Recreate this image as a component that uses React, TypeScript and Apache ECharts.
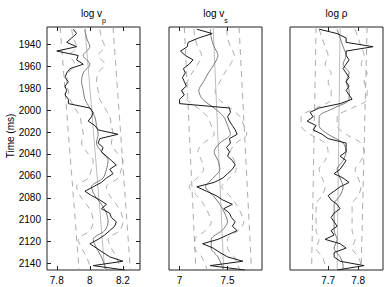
import React, { useEffect, useRef } from "react";
import * as echarts from "echarts";

// Sample times (ms)
const TIME = [
  1926, 1930, 1934, 1938, 1942, 1946, 1950, 1954, 1958, 1962, 1966, 1970, 1974, 1978,
  1982, 1986, 1990, 1994, 1998, 2002, 2006, 2010, 2014, 2018, 2022, 2026, 2030, 2034,
  2038, 2042, 2046, 2050, 2054, 2058, 2062, 2066, 2070, 2074, 2078, 2082, 2086, 2090,
  2094, 2098, 2102, 2106, 2110, 2114, 2118, 2122, 2126, 2130, 2134, 2138, 2142, 2146,
];
const EST_TIME = [
  1926, 1934, 1942, 1950, 1958, 1966, 1974, 1982, 1990, 1998, 2006, 2014, 2022, 2030,
  2038, 2046, 2054, 2062, 2070, 2078, 2086, 2094, 2102, 2110, 2118, 2126, 2134, 2142, 2146,
];
const TREND_TIME = [1924, 2146];

// log vp
const vpTrue = [
  7.90, 7.92, 7.89, 7.86, 7.92, 7.80, 7.93, 7.92, 7.96, 7.88, 7.86, 7.85, 7.87, 7.85,
  7.86, 7.85, 7.87, 7.87, 8.00, 8.02, 8.01, 7.99, 8.03, 8.05, 8.17, 8.06, 8.05, 8.08,
  8.07, 8.10, 8.13, 8.16, 8.12, 8.14, 8.10, 8.07, 8.02, 7.97, 8.01, 8.06, 8.10, 8.07,
  8.12, 8.13, 8.16, 8.15, 8.12, 8.09, 8.05, 8.00, 8.04, 8.08, 8.12, 8.20, 8.02, 8.21,
];
const vpEst = [
  7.97, 7.98, 8.00, 7.96, 8.00, 7.96, 7.95, 7.96, 7.97, 8.00, 8.03, 8.04, 8.05, 8.04,
  8.07, 8.11, 8.10, 8.08, 8.01, 8.03, 8.07, 8.10, 8.11, 8.09, 8.02, 8.04, 8.07, 8.09, 8.10,
];
const vpLo = [
  7.89, 7.90, 7.92, 7.88, 7.91, 7.87, 7.86, 7.87, 7.88, 7.91, 7.94, 7.95, 7.96, 7.95,
  7.98, 8.02, 8.01, 7.99, 7.92, 7.94, 7.98, 8.01, 8.02, 8.00, 7.93, 7.95, 7.98, 8.00, 8.01,
];
const vpHi = [
  8.06, 8.07, 8.09, 8.05, 8.09, 8.05, 8.04, 8.05, 8.06, 8.09, 8.12, 8.13, 8.14, 8.13,
  8.16, 8.20, 8.19, 8.17, 8.10, 8.12, 8.16, 8.19, 8.20, 8.18, 8.11, 8.13, 8.16, 8.18, 8.19,
];
const vpTrend = [7.97, 8.09];
const vpPriorLo = [7.82, 7.935];
const vpPriorHi = [8.14, 8.245];

// log vs
const vsTrue = [
  7.18, 7.34, 7.20, 7.09, 7.08, 7.01, 7.06, 7.14, 7.10, 7.04, 7.06, 7.03, 7.05, 7.07,
  7.02, 7.05, 7.00, 7.00, 7.52, 7.53, 7.50, 7.52, 7.55, 7.58, 7.60, 7.52, 7.53, 7.49,
  7.52, 7.50, 7.55, 7.58, 7.55, 7.50, 7.45, 7.36, 7.18, 7.28, 7.38, 7.45, 7.55, 7.46,
  7.52, 7.54, 7.58, 7.55, 7.60, 7.50, 7.40, 7.24, 7.35, 7.42, 7.50, 7.66, 7.32, 7.68,
];
const vsEst = [
  7.32, 7.33, 7.36, 7.40, 7.36, 7.30, 7.25, 7.20, 7.24, 7.36, 7.46, 7.50, 7.53, 7.42,
  7.36, 7.40, 7.42, 7.35, 7.27, 7.35, 7.42, 7.47, 7.50, 7.44, 7.33, 7.33, 7.40, 7.44, 7.46,
];
const vsLo = [
  7.15, 7.16, 7.19, 7.23, 7.19, 7.13, 7.08, 7.03, 7.07, 7.19, 7.29, 7.33, 7.36, 7.25,
  7.19, 7.23, 7.25, 7.18, 7.10, 7.18, 7.25, 7.30, 7.33, 7.27, 7.16, 7.16, 7.23, 7.27, 7.29,
];
const vsHi = [
  7.49, 7.50, 7.53, 7.57, 7.53, 7.47, 7.42, 7.37, 7.41, 7.53, 7.63, 7.67, 7.70, 7.59,
  7.53, 7.57, 7.59, 7.52, 7.44, 7.52, 7.59, 7.64, 7.67, 7.61, 7.50, 7.50, 7.57, 7.61, 7.63,
];
const vsTrend = [7.35, 7.46];
const vsPriorLo = [7.05, 7.17];
const vsPriorHi = [7.62, 7.75];

// log rho
const rhoTrue = [
  7.67, 7.73, 7.76, 7.76, 7.85, 7.76, 7.76, 7.77, 7.76, 7.75, 7.76, 7.77, 7.76, 7.77,
  7.76, 7.77, 7.78, 7.74, 7.67, 7.64, 7.65, 7.63, 7.66, 7.65, 7.68, 7.70, 7.76, 7.76,
  7.76, 7.74, 7.76, 7.75, 7.74, 7.72, 7.75, 7.77, 7.74, 7.72, 7.70, 7.71, 7.73, 7.74,
  7.72, 7.71, 7.72, 7.73, 7.71, 7.72, 7.69, 7.74, 7.76, 7.72, 7.72, 7.74, 7.82, 7.73,
];
const rhoEst = [
  7.73, 7.74, 7.75, 7.76, 7.75, 7.77, 7.76, 7.77, 7.77, 7.72, 7.67, 7.67, 7.70, 7.75,
  7.76, 7.75, 7.73, 7.74, 7.75, 7.74, 7.72, 7.72, 7.72, 7.72, 7.73, 7.72, 7.74, 7.75, 7.75,
];
const rhoLo = [
  7.67, 7.68, 7.69, 7.70, 7.69, 7.71, 7.70, 7.71, 7.71, 7.66, 7.61, 7.61, 7.64, 7.69,
  7.70, 7.69, 7.67, 7.68, 7.69, 7.68, 7.66, 7.66, 7.66, 7.66, 7.67, 7.66, 7.68, 7.69, 7.69,
];
const rhoHi = [
  7.79, 7.80, 7.81, 7.82, 7.81, 7.83, 7.82, 7.83, 7.83, 7.78, 7.73, 7.73, 7.76, 7.81,
  7.82, 7.81, 7.79, 7.80, 7.81, 7.80, 7.78, 7.78, 7.78, 7.78, 7.79, 7.78, 7.80, 7.81, 7.81,
];
const rhoTrend = [7.74, 7.73];
const rhoPriorLo = [7.66, 7.645];
const rhoPriorHi = [7.83, 7.81];

const Y_TICKS = [1940, 1960, 1980, 2000, 2020, 2040, 2060, 2080, 2100, 2120, 2140];
const VP_TICKS = [7.8, 8, 8.2];
const VS_TICKS = [7, 7.5];
const RHO_TICKS = [7.7, 7.8];

const FONT = "'Liberation Sans', Arial, Helvetica, sans-serif";

function pts(xs: number[], ts: number[]) {
  return ts.map((t, i) => [xs[i], t]);
}

export default function App() {
  const ref = useRef<HTMLDivElement>(null);
  useEffect(() => {
    if (!ref.current) return;
    const chart = echarts.init(ref.current, undefined, { renderer: "svg" });

    const panels = [
      { left: 47, min: 7.741, max: 8.303, ticks: VP_TICKS, tru: vpTrue, est: vpEst, lo: vpLo, hi: vpHi, trend: vpTrend, pLo: vpPriorLo, pHi: vpPriorHi },
      { left: 169, min: 6.89, max: 7.859, ticks: VS_TICKS, tru: vsTrue, est: vsEst, lo: vsLo, hi: vsHi, trend: vsTrend, pLo: vsPriorLo, pHi: vsPriorHi },
      { left: 290, min: 7.573, max: 7.883, ticks: RHO_TICKS, tru: rhoTrue, est: rhoEst, lo: rhoLo, hi: rhoHi, trend: rhoTrend, pLo: rhoPriorLo, pHi: rhoPriorHi },
    ];
    const TOP = 27;
    const H = 243;
    const W = 93;

    const grid = panels.map((p) => ({
      left: p.left, top: TOP, width: W, height: H,
      show: true, borderColor: "#222", borderWidth: 1, backgroundColor: "transparent",
    }));

    const fmt = (v: number) => String(Math.round(v * 10) / 10);
    const xAxis: any[] = [];
    panels.forEach((p, i) => {
      xAxis.push({
        type: "value", gridIndex: i, min: p.min, max: p.max, position: "bottom",
        axisLine: { show: false }, splitLine: { show: false },
        axisTick: { show: true, inside: true, length: 4, customValues: p.ticks, lineStyle: { color: "#222", width: 1 } },
        axisLabel: { show: true, customValues: p.ticks, formatter: fmt, margin: 5, fontSize: 10, color: "#000", fontFamily: FONT },
      });
    });
    panels.forEach((p, i) => {
      xAxis.push({
        type: "value", gridIndex: i, min: p.min, max: p.max, position: "top",
        axisLine: { show: false }, splitLine: { show: false },
        axisTick: { show: true, inside: true, length: 4, customValues: p.ticks, lineStyle: { color: "#222", width: 1 } },
        axisLabel: { show: false },
      });
    });

    const yAxis: any[] = [];
    panels.forEach((p, i) => {
      yAxis.push({
        type: "value", gridIndex: i, inverse: true, min: 1924, max: 2146, position: "left",
        axisLine: { show: false }, splitLine: { show: false },
        axisTick: { show: i === 0, inside: true, length: 4, customValues: Y_TICKS, lineStyle: { color: "#222", width: 1 } },
        axisLabel: { show: i === 0, customValues: Y_TICKS, margin: 6, fontSize: 10, color: "#000", fontFamily: FONT, formatter: (v: number) => String(v) },
      });
    });
    yAxis.push({
      type: "value", gridIndex: 0, inverse: true, min: 1924, max: 2146, position: "right",
      axisLine: { show: false }, splitLine: { show: false },
      axisTick: { show: true, inside: true, length: 4, customValues: Y_TICKS, lineStyle: { color: "#222", width: 1 } },
      axisLabel: { show: false },
    });

    const series: any[] = [];
    const base = { type: "line", showSymbol: false, symbol: "none", silent: true, clip: true };
    const dash = { color: "#969696", width: 0.8, type: [6, 5] };
    panels.forEach((p, i) => {
      const ax = { xAxisIndex: i, yAxisIndex: i };
      series.push({ ...base, ...ax, z: 1, data: pts(p.pLo, TREND_TIME), lineStyle: dash });
      series.push({ ...base, ...ax, z: 1, data: pts(p.pHi, TREND_TIME), lineStyle: dash });
      series.push({ ...base, ...ax, z: 1, data: pts(p.lo, EST_TIME), smooth: 0.3, lineStyle: dash });
      series.push({ ...base, ...ax, z: 1, data: pts(p.hi, EST_TIME), smooth: 0.3, lineStyle: dash });
      series.push({ ...base, ...ax, z: 2, data: pts(p.trend, TREND_TIME), lineStyle: { color: "#bdbdbd", width: 1 } });
      series.push({ ...base, ...ax, z: 3, data: pts(p.est, EST_TIME), smooth: 0.3, lineStyle: { color: "#7a7a7a", width: 1 } });
      series.push({ ...base, ...ax, z: 4, data: pts(p.tru, TIME), lineStyle: { color: "#1a1a1a", width: 1 } });
    });

    const rich = {
      n: { fontSize: 10, lineHeight: 16, fontFamily: FONT, fill: "#000", color: "#000", verticalAlign: "top" },
      s: { fontSize: 7, fontFamily: FONT, fill: "#000", color: "#000", verticalAlign: "bottom" },
    };
    const titles = [
      { x: 93.5, text: "{n|log v}{s|p}" },
      { x: 215.5, text: "{n|log v}{s|s}" },
      { x: 336.5, text: "{n|log ρ}" },
    ];

    chart.setOption({
      animation: false,
      grid,
      xAxis,
      yAxis,
      series,
      graphic: [
        ...titles.map((t) => ({
          type: "text", x: t.x, y: 16, silent: true,
          style: { text: t.text, rich, align: "center", verticalAlign: "middle", fill: "#000", font: `10px ${FONT}` },
        })),
        {
          type: "text", x: 10, y: 136, rotation: Math.PI / 2, silent: true,
          style: { text: "Time (ms)", align: "center", verticalAlign: "middle", fill: "#000", font: `10px ${FONT}` },
        },
      ],
    });
    return () => chart.dispose();
  }, []);
  return <div ref={ref} style={{ position: "absolute", left: 0, top: 0, width: 388, height: 287 }} />;
}
